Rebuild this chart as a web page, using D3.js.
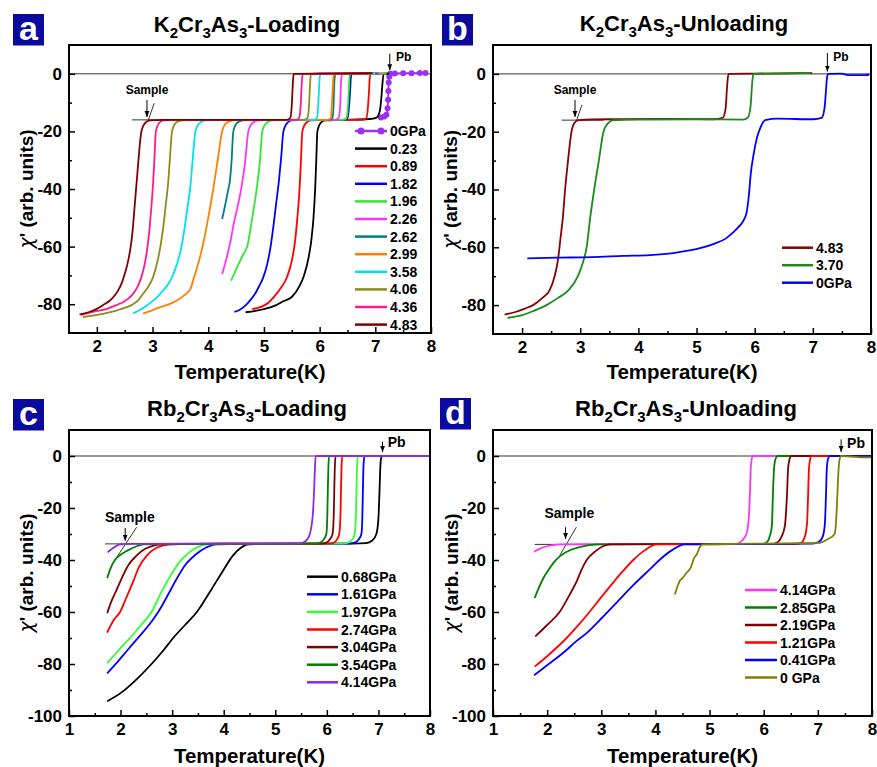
<!DOCTYPE html>
<html><head><meta charset="utf-8">
<script src="https://cdn.jsdelivr.net/npm/d3@7"></script>
<style>body{margin:0;background:#fff} text{font-family:"Liberation Sans",Arial,sans-serif;font-weight:bold}</style>
</head><body><script>
// ---------------- DATA ----------------
// Panel a : K2Cr3As3 loading  [T (K), chi']
const a_0   = [[7.10,-15.2],[7.16,-14.8],[7.20,-14.2],[7.22,-12],[7.23,-9],[7.235,-6],[7.24,-3],[7.25,-1],[7.27,0],[7.35,0.1],[7.5,0.2],[7.65,0.2],[7.8,0.3],[7.9,0.3]];
const a_023 = [[4.67,-82.8],[4.85,-82.3],[5.0,-81.7],[5.2,-80.5],[5.35,-79],[5.5,-77.5],[5.63,-74],[5.72,-70],[5.8,-64],[5.85,-58],[5.89,-50],[5.92,-40],[5.94,-30],[5.96,-20],[6.02,-17],[6.1,-16.2],[6.35,-16],[6.9,-15.7],[7.02,-15.2],[7.08,-13],[7.11,-8],[7.13,-3],[7.15,0],[7.25,0.1]];
const a_089 = [[4.79,-81.7],[4.9,-81.2],[4.99,-80.6],[5.08,-79.5],[5.17,-77.7],[5.3,-74.5],[5.41,-70.8],[5.5,-65],[5.56,-58],[5.6,-50],[5.64,-40],[5.665,-30],[5.69,-20],[5.76,-17],[5.85,-16.2],[6.1,-16],[6.75,-16],[6.84,-15.4],[6.87,-11],[6.89,-5],[6.9,-1.5],[6.92,0],[7.2,0.1]];
const a_182 = [[4.47,-82.7],[4.56,-82],[4.66,-80.6],[4.76,-78.5],[4.84,-76.4],[4.92,-73.5],[4.99,-70.6],[5.06,-66],[5.12,-60],[5.17,-53],[5.22,-45],[5.27,-37],[5.31,-29],[5.35,-20],[5.42,-17],[5.5,-16.2],[5.7,-16],[6.42,-16],[6.5,-15.4],[6.53,-11],[6.55,-5],[6.56,-1.5],[6.58,0],[7.0,0.1]];
const a_196 = [[4.41,-71.8],[4.5,-68],[4.62,-63],[4.70,-60],[4.79,-50],[4.87,-40],[4.93,-30],[4.97,-20],[5.05,-17],[5.15,-16.2],[5.4,-16],[6.42,-16],[6.48,-15.4],[6.51,-11],[6.525,-5],[6.535,-1.5],[6.55,0],[7.2,0.1]];
const a_226 = [[4.25,-69.5],[4.33,-64],[4.40,-58],[4.47,-51],[4.54,-45],[4.6,-39],[4.66,-31],[4.72,-20],[4.8,-17],[4.9,-16.2],[5.1,-16],[6.28,-16],[6.34,-15.4],[6.37,-11],[6.38,-5],[6.39,-1.5],[6.41,0],[7.1,0.1]];
const a_262 = [[4.25,-50.4],[4.3,-46],[4.35,-41],[4.39,-37],[4.42,-30],[4.45,-20],[4.52,-17],[4.62,-16.2],[4.9,-16],[6.18,-16],[6.23,-15.4],[6.25,-11],[6.26,-5],[6.27,-1.5],[6.29,0],[7.05,0.1]];
const a_299 = [[2.83,-83.2],[2.98,-82.2],[3.14,-81],[3.3,-80],[3.43,-78.8],[3.56,-77],[3.68,-74.7],[3.74,-71],[3.80,-67.2],[3.86,-63],[3.92,-58],[4.0,-50],[4.09,-40],[4.17,-30],[4.25,-20],[4.33,-17],[4.45,-16.2],[4.7,-16],[6.14,-16],[6.2,-15.4],[6.22,-11],[6.235,-5],[6.245,-1.5],[6.26,0],[7.0,0.1]];
const a_358 = [[2.65,-83.2],[2.77,-82],[2.89,-80.5],[2.98,-79.2],[3.08,-77.6],[3.2,-75],[3.32,-71.8],[3.44,-66],[3.52,-60],[3.58,-53],[3.63,-46],[3.68,-39],[3.72,-30],[3.77,-20],[3.85,-17],[3.95,-16.2],[4.2,-16],[5.9,-16],[5.95,-15.4],[5.975,-11],[5.99,-5],[6.0,-1.5],[6.02,0],[7.0,0.1]];
const a_406 = [[1.75,-84.5],[2.0,-83.7],[2.35,-82.2],[2.5,-81.3],[2.65,-80],[2.75,-78.5],[2.83,-76.4],[2.92,-74],[3.01,-70.6],[3.09,-65],[3.15,-59],[3.2,-52],[3.24,-45],[3.28,-38],[3.31,-30],[3.35,-20],[3.42,-17],[3.52,-16.2],[3.7,-16],[5.72,-16],[5.78,-15.4],[5.81,-11],[5.825,-5],[5.835,-1.5],[5.85,0],[6.95,0.1]];
const a_436 = [[1.72,-83.8],[1.95,-82.6],[2.17,-81.7],[2.35,-80.3],[2.47,-79.3],[2.57,-78],[2.65,-76.4],[2.73,-74],[2.8,-70.6],[2.86,-66],[2.91,-60],[2.95,-53],[2.98,-46],[3.01,-38],[3.035,-29],[3.06,-20],[3.12,-17],[3.2,-16.2],[3.4,-16],[5.58,-16],[5.63,-15.4],[5.66,-11],[5.675,-5],[5.685,-1.5],[5.7,0],[6.9,0.1]];
const a_483 = [[1.69,-83.5],[1.85,-82.8],[1.99,-81.7],[2.12,-80.2],[2.23,-78.8],[2.32,-77],[2.38,-75.3],[2.45,-72.5],[2.5,-69.5],[2.55,-66],[2.6,-61],[2.64,-55],[2.67,-48],[2.70,-41],[2.73,-34],[2.76,-27],[2.8,-20],[2.86,-17.2],[2.95,-16.2],[3.2,-16],[5.4,-16],[5.47,-15.4],[5.5,-11],[5.515,-5],[5.525,-1.5],[5.54,0],[6.0,0.1],[6.95,0.2]];
const aLabels = ["0GPa","0.23","0.89","1.82","1.96","2.26","2.62","2.99","3.58","4.06","4.36","4.83"];
const aCurves = [a_0,a_023,a_089,a_182,a_196,a_226,a_262,a_299,a_358,a_406,a_436,a_483];

// Panel b : K2Cr3As3 unloading
const b_483 = [[1.70,-83.3],[1.9,-82.3],[2.05,-81.2],[2.19,-80],[2.35,-77.5],[2.47,-75],[2.56,-70],[2.62,-64],[2.66,-57],[2.7,-50],[2.74,-40],[2.79,-30],[2.85,-20],[2.9,-17],[2.97,-16],[3.5,-15.7],[4.5,-15.6],[5.3,-15.7],[5.45,-15.2],[5.5,-12],[5.52,-6],[5.535,-2],[5.55,0],[6.0,0.1],[6.99,0.3]];
const b_370 = [[1.75,-84.4],[2.0,-83.5],[2.2,-82],[2.42,-80],[2.62,-77.5],[2.79,-75],[2.96,-70],[3.05,-65],[3.11,-60],[3.17,-50],[3.24,-40],[3.32,-30],[3.40,-20],[3.48,-17],[3.57,-16],[4.0,-15.8],[5.0,-15.7],[5.8,-15.8],[5.88,-15.2],[5.93,-11],[5.95,-5],[5.965,-1.5],[5.98,0],[6.3,0.1],[6.96,0.3]];
const b_0   = [[2.09,-63.8],[2.6,-63.6],[3.2,-63.4],[3.74,-63],[4.2,-62.7],[4.6,-62],[4.9,-61],[5.06,-60.3],[5.3,-58.8],[5.5,-57],[5.62,-55],[5.72,-53],[5.8,-51],[5.86,-48],[5.9,-42],[5.93,-35],[5.98,-28],[6.04,-22],[6.10,-18.5],[6.18,-16],[6.4,-15.5],[7.0,-15.7],[7.15,-15.2],[7.2,-12],[7.225,-6],[7.24,-2],[7.26,0],[7.5,0.1],[7.6,-0.4],[7.9,-0.4],[7.97,-0.3]];
const bLabels = ["4.83","3.70","0GPa"];
const bCurves = [b_483,b_370,b_0];

// Panel c : Rb2Cr3As3 loading
const c_068 = [[1.74,-94.3],[2.0,-91.2],[2.33,-85.5],[2.6,-80],[2.82,-75],[3.02,-70],[3.25,-65],[3.48,-60],[3.74,-52],[3.99,-44],[4.17,-38.5],[4.32,-35.5],[4.48,-34],[5.0,-33.8],[6.5,-33.7],[6.76,-33.5],[6.88,-32.5],[6.96,-30],[7.0,-24],[7.02,-14],[7.035,-5],[7.05,-1],[7.07,0],[8.0,0]];
const c_161 = [[1.74,-83.6],[1.95,-79],[2.12,-75],[2.38,-69],[2.55,-65],[2.73,-60],[2.93,-53],[3.08,-47.5],[3.25,-42],[3.45,-38],[3.65,-35.3],[3.86,-34],[4.5,-33.8],[6.4,-33.7],[6.54,-33.3],[6.62,-32],[6.67,-30],[6.69,-22],[6.7,-12],[6.71,-4],[6.73,0],[8.0,0]];
const c_197 = [[1.74,-79.7],[1.95,-75],[2.18,-70],[2.4,-65],[2.6,-60],[2.8,-52],[3.0,-45],[3.2,-39.5],[3.45,-35.5],[3.7,-34],[4.5,-33.8],[6.3,-33.7],[6.41,-33.3],[6.5,-32],[6.54,-30],[6.565,-22],[6.575,-12],[6.585,-4],[6.6,0],[8.0,0]];
const c_274 = [[1.74,-67.9],[1.87,-63],[1.99,-60],[2.1,-55],[2.25,-48],[2.35,-43],[2.5,-38.5],[2.7,-35.3],[2.96,-34],[4.0,-33.7],[6.05,-33.7],[6.14,-33.3],[6.2,-32],[6.24,-30],[6.265,-22],[6.275,-12],[6.285,-4],[6.3,0],[8.0,0]];
const c_304 = [[1.74,-60.5],[1.82,-56],[1.9,-52.5],[2.0,-48],[2.15,-42],[2.3,-38.5],[2.5,-35.5],[2.83,-34],[4.0,-33.7],[5.9,-33.7],[5.99,-33.3],[6.06,-32],[6.11,-30],[6.135,-22],[6.145,-12],[6.155,-4],[6.17,0],[8.0,0]];
const c_354 = [[1.74,-47],[1.8,-43.5],[1.89,-40],[2.0,-38],[2.12,-36.5],[2.3,-34.8],[2.44,-34],[4.0,-33.7],[5.78,-33.7],[5.87,-33.3],[5.94,-32],[5.99,-30],[6.01,-22],[6.02,-12],[6.03,-4],[6.045,0],[8.0,0]];
const c_414 = [[1.75,-37],[1.85,-35.5],[1.99,-34],[2.2,-33.8],[4.0,-33.7],[5.45,-33.7],[5.55,-33.2],[5.62,-32],[5.67,-30],[5.73,-22],[5.755,-12],[5.77,-4],[5.785,0],[8.0,0]];
const cLabels = ["0.68GPa","1.61GPa","1.97GPa","2.74GPa","3.04GPa","3.54GPa","4.14GPa"];
const cCurves = [c_068,c_161,c_197,c_274,c_304,c_354,c_414];

// Panel d : Rb2Cr3As3 unloading
const d_414 = [[1.76,-36.8],[1.85,-35.8],[1.95,-35],[2.1,-34.3],[2.23,-34],[4,-33.9],[5.45,-33.9],[5.55,-33.4],[5.62,-32],[5.68,-30],[5.72,-25],[5.745,-15],[5.76,-5],[5.78,-1],[5.8,0],[8,0]];
const d_285 = [[1.77,-54.6],[1.85,-50.5],[1.93,-47],[2.02,-44],[2.12,-41],[2.25,-38.3],[2.45,-36],[2.7,-34.6],[2.91,-34],[4.0,-33.9],[5.95,-33.9],[6.05,-33.3],[6.11,-31],[6.15,-27],[6.17,-15],[6.19,-5],[6.22,-1],[6.26,0],[8,0]];
const d_219 = [[1.78,-69.4],[2.0,-65],[2.23,-60],[2.45,-52],[2.55,-48],[2.63,-44],[2.73,-40],[2.9,-36.5],[3.16,-34],[4.5,-33.9],[6.15,-33.9],[6.25,-33.3],[6.33,-31],[6.39,-27],[6.43,-15],[6.45,-5],[6.48,-1],[6.51,0],[8,0]];
const d_121 = [[1.77,-81],[2.0,-77],[2.36,-70],[2.6,-64.5],[2.8,-59.5],[3.0,-54.3],[3.2,-49.2],[3.39,-44.5],[3.6,-39.8],[3.8,-36.3],[4.02,-34],[5.0,-33.9],[6.6,-33.9],[6.7,-33.3],[6.76,-31],[6.8,-26],[6.82,-15],[6.835,-5],[6.86,-1],[6.88,0],[8,0]];
const d_041 = [[1.76,-84.3],[2.0,-80.5],[2.32,-75.3],[2.55,-71],[2.73,-68.1],[3.0,-62.5],[3.3,-56],[3.6,-49.5],[3.9,-43.5],[4.1,-39.5],[4.3,-36.3],[4.54,-34],[5.5,-33.9],[6.9,-33.7],[7.02,-33],[7.09,-31],[7.13,-26],[7.15,-15],[7.165,-5],[7.19,-1],[7.22,0],[8,0]];
const d_0   = [[4.36,-53.3],[4.41,-50],[4.45,-48],[4.5,-47],[4.57,-45],[4.65,-43],[4.72,-39],[4.76,-38],[4.82,-35],[4.88,-34],[5.5,-33.8],[6.5,-33.6],[7.04,-33.4],[7.18,-32],[7.31,-30],[7.34,-24],[7.36,-15],[7.38,-6],[7.4,-1.5],[7.43,0],[7.6,-0.2],[7.8,-0.5],[8,-0.5]];
const dLabels = ["4.14GPa","2.85GPa","2.19GPa","1.21GPa","0.41GPa","0 GPa"];
const dCurves = [d_414,d_285,d_219,d_121,d_041,d_0];

// tick labels
const xTicksAB = [2,3,4,5,6,7,8];
const xMinorAB = [2.5,3.5,4.5,5.5,6.5,7.5];
const yTicksAB = [0,-20,-40,-60,-80];
const yMinorAB = [-10,-30,-50,-70];
const xTicksCD = [1,2,3,4,5,6,7,8];
const xMinorCD = [1.5,2.5,3.5,4.5,5.5,6.5,7.5];
const yTicksCD = [0,-20,-40,-60,-80,-100];
const yMinorCD = [-10,-30,-50,-70,-90];

// ---------------- STYLES ----------------
const aColors = ["#9b30f0","#000000","#ff0000","#0000ff","#33e633","#ff33ff","#008080","#ff8000","#00e0f0","#8c8c1a","#ff1a8c","#800000"];
const bColors = ["#8b0000","#1a8c1a","#0000ff"];
const cColors = ["#000000","#0000ff","#33ff33","#ff0000","#800000","#008000","#8a2be2"];
const dColors = ["#ff33ff","#008000","#800000","#ff0000","#0000ff","#808000"];

const svg = d3.select("body").append("svg").attr("width",877).attr("height",767);
const defs = svg.append("defs");
defs.append("marker").attr("id","arr").attr("viewBox","0 0 10 10").attr("refX",10).attr("refY",5)
  .attr("markerWidth",6).attr("markerHeight",6).attr("markerUnits","userSpaceOnUse").attr("orient","auto")
  .append("path").attr("d","M0,1 L10,5 L0,9 z").attr("fill","#000");

const panels = [
 {letter:"a", lx:13, ly:14, title:["K","2","Cr","3","As","3","-Loading"], tx:247, ty:32,
  l:69,r:431,t:45,b:333, xd:[1.5,8], yd:[-90,10], xT:xTicksAB, xM:xMinorAB, yT:yTicksAB, yM:yMinorAB,
  curves:aCurves, labels:aLabels, colors:aColors, markerIdx:0,
  leg:{x1:355,x2:387,y:131,dy:17.6}, ytx:33, xtb:379, annFs:12,
  pb:{x:7.26,y1:7,y2:1.2,tx:7.37,ty:5.7},
  smp:{tx:2.9,ty:-5.6,ax:2.9,ay1:-9.1,ay2:-15,t1:[2.92,-16.3],t2:[3.03,-10.2],h:[2.63,3.4,-16]}},
 {letter:"b", lx:442, ly:14, title:["K","2","Cr","3","As","3","-Unloading"], tx:684, ty:31,
  l:493,r:871,t:45,b:334, xd:[1.5,8], yd:[-90,10], xT:xTicksAB, xM:xMinorAB, yT:yTicksAB, yM:yMinorAB,
  curves:bCurves, labels:bLabels, colors:bColors, markerIdx:-1,
  leg:{x1:782,x2:813,y:247.7,dy:17.5}, ytx:457, xtb:379, annFs:12,
  pb:{x:7.25,y1:7.2,y2:0.8,tx:7.35,ty:6.0},
  smp:{tx:2.91,ty:-5.5,ax:2.91,ay1:-9,ay2:-14.9,t1:[2.94,-15.9],t2:[3.03,-10.7],h:[2.68,3.4,-16]}},
 {letter:"c", lx:13, ly:399, title:["Rb","2","Cr","3","As","3","-Loading"], tx:247, ty:416,
  l:69,r:430,t:430,b:716, xd:[1,8], yd:[-100,10], xT:xTicksCD, xM:xMinorCD, yT:yTicksCD, yM:yMinorCD,
  curves:cCurves, labels:cLabels, colors:cColors, markerIdx:-1,
  leg:{x1:307,x2:338,y:576.7,dy:17.6}, ytx:33, xtb:763, annFs:14,
  pb:{x:7.08,y1:5.5,y2:1.5,tx:7.18,ty:5.5},
  smp:{tx:2.18,ty:-23.3,ax:2.09,ay1:-27.7,ay2:-32.6,t1:[1.925,-39],t2:[2.31,-27.4],h:[1.70,3.0,-33.8]}},
 {letter:"d", lx:440, ly:398, title:["Rb","2","Cr","3","As","3","-Unloading"], tx:686, ty:416,
  l:493,r:872,t:430,b:716, xd:[1,8], yd:[-100,10], xT:xTicksCD, xM:xMinorCD, yT:yTicksCD, yM:yMinorCD,
  curves:dCurves, labels:dLabels, colors:dColors, markerIdx:-1,
  leg:{x1:745,x2:777,y:590,dy:17.5}, ytx:458, xtb:763, annFs:14,
  pb:{x:7.43,y1:6.4,y2:1.5,tx:7.54,ty:5},
  smp:{tx:2.41,ty:-22,ax:2.34,ay1:-27.4,ay2:-31.9,t1:[2.23,-38.3],t2:[2.54,-27.4],h:[1.77,3.6,-34]}}
];

panels.forEach(p => {
  const g = svg.append("g");
  const x = d3.scaleLinear().domain(p.xd).range([p.l,p.r]);
  const y = d3.scaleLinear().domain(p.yd).range([p.b,p.t]);

  // panel letter
  g.append("rect").attr("x",p.lx).attr("y",p.ly).attr("width",31).attr("height",31.5).attr("fill","#0a0a9e");
  g.append("text").attr("x",p.lx+15.5).attr("y",p.ly+26).attr("text-anchor","middle").attr("fill","#fff")
    .attr("font-size",34).text(p.letter);

  // title
  const tt = g.append("text").attr("x",p.tx).attr("y",p.ty).attr("text-anchor","middle").attr("font-size",22);
  p.title.forEach((s,i)=>{
    const sp = tt.append("tspan").text(s);
    if(i%2===1){ sp.attr("font-size",15).attr("dy",6); }
    else if(i>0){ sp.attr("dy",-6); }
  });

  // reference lines
  g.append("line").attr("x1",p.l).attr("x2",p.r).attr("y1",y(0)).attr("y2",y(0)).attr("stroke","#000").attr("stroke-width",0.8);
  g.append("line").attr("x1",x(p.smp.h[0])).attr("x2",x(p.smp.h[1])).attr("y1",y(p.smp.h[2])).attr("y2",y(p.smp.h[2])).attr("stroke","#000").attr("stroke-width",0.8);
  g.append("line").attr("x1",x(p.smp.t1[0])).attr("y1",y(p.smp.t1[1])).attr("x2",x(p.smp.t2[0])).attr("y2",y(p.smp.t2[1])).attr("stroke","#000").attr("stroke-width",0.8);

  // curves
  const line = d3.line().x(d=>x(d[0])).y(d=>y(d[1])).curve(d3.curveMonotoneX);
  p.curves.forEach((c,i)=>{
    g.append("path").attr("d",line(c)).attr("fill","none").attr("stroke",p.colors[i]).attr("stroke-width",1.8);
    if(i===p.markerIdx){
      g.selectAll(null).data(c).enter().append("circle").attr("cx",d=>x(d[0])).attr("cy",d=>y(d[1])).attr("r",3).attr("fill",p.colors[i]);
    }
  });

  // axes
  const fmt = d=>String(d);
  const gx = g.append("g").attr("transform",`translate(0,${p.b})`)
    .call(d3.axisBottom(x).tickValues(p.xT).tickSize(-6).tickPadding(7).tickFormat(fmt));
  const gxm = g.append("g").attr("transform",`translate(0,${p.b})`)
    .call(d3.axisBottom(x).tickValues(p.xM).tickSize(-3).tickFormat(""));
  const gy = g.append("g").attr("transform",`translate(${p.l},0)`)
    .call(d3.axisLeft(y).tickValues(p.yT).tickSize(-6).tickPadding(7).tickFormat(fmt));
  const gym = g.append("g").attr("transform",`translate(${p.l},0)`)
    .call(d3.axisLeft(y).tickValues(p.yM).tickSize(-3).tickFormat(""));
  [gx,gxm,gy,gym].forEach(a=>{
    a.select(".domain").remove();
    a.attr("font-family",null).attr("font-size",17);
    a.selectAll("line").attr("stroke-width",1.5);
  });

  // frame
  g.append("rect").attr("x",p.l).attr("y",p.t).attr("width",p.r-p.l).attr("height",p.b-p.t)
    .attr("fill","none").attr("stroke","#000").attr("stroke-width",2);

  // axis titles
  g.append("text").attr("x",(p.l+p.r)/2).attr("y",p.xtb).attr("text-anchor","middle").attr("font-size",20.5).text("Temperature(K)");
  const yt = g.append("text").attr("transform",`translate(${p.ytx},${(p.t+p.b)/2}) rotate(-90)`).attr("text-anchor","middle").attr("font-size",19);
  yt.append("tspan").attr("font-family","DejaVu Sans").attr("font-weight","normal").attr("font-style","italic").text("χ");
  yt.append("tspan").text("' (arb. units)");

  // legend
  p.labels.forEach((lab,i)=>{
    const yy = p.leg.y + i*p.leg.dy;
    g.append("line").attr("x1",p.leg.x1).attr("x2",p.leg.x2).attr("y1",yy).attr("y2",yy).attr("stroke",p.colors[i]).attr("stroke-width",2.5);
    if(i===p.markerIdx){
      [p.leg.x1+6,p.leg.x2-6].forEach(cx=>g.append("circle").attr("cx",cx).attr("cy",yy).attr("r",3.5).attr("fill",p.colors[i]));
    }
    g.append("text").attr("x",p.leg.x2+3).attr("y",yy).attr("dominant-baseline","central").attr("font-size",14).text(lab);
  });

  // annotations
  g.append("line").attr("x1",x(p.pb.x)).attr("x2",x(p.pb.x)).attr("y1",y(p.pb.y1)).attr("y2",y(p.pb.y2)).attr("stroke","#000").attr("stroke-width",1).attr("marker-end","url(#arr)");
  g.append("text").attr("x",x(p.pb.tx)).attr("y",y(p.pb.ty)).attr("dominant-baseline","central").attr("font-size",p.annFs).text("Pb");
  g.append("line").attr("x1",x(p.smp.ax)).attr("x2",x(p.smp.ax)).attr("y1",y(p.smp.ay1)).attr("y2",y(p.smp.ay2)).attr("stroke","#000").attr("stroke-width",1).attr("marker-end","url(#arr)");
  g.append("text").attr("x",x(p.smp.tx)).attr("y",y(p.smp.ty)).attr("text-anchor","middle").attr("dominant-baseline","central").attr("font-size",p.annFs).text("Sample");
});
</script></body></html>
